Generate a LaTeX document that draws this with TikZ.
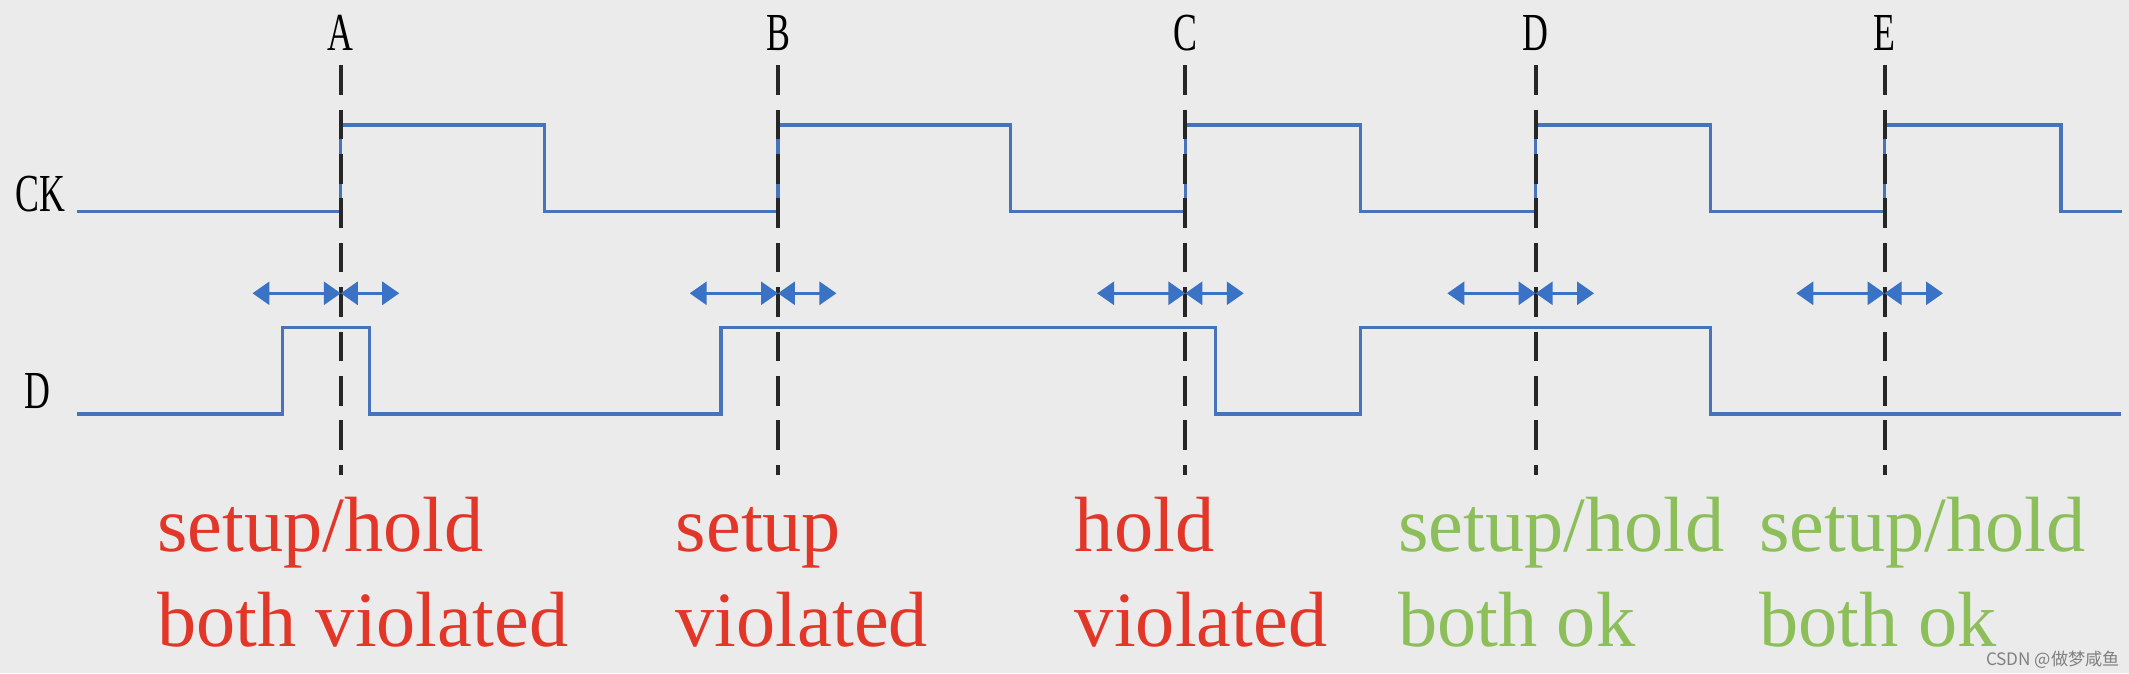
\documentclass[tikz,border=0pt]{standalone}
\usepackage{fontspec}
\setmainfont{Liberation Serif}
\newfontfamily\narrowserif[FakeStretch=0.67]{Liberation Serif}
\newfontfamily\cjksans{Noto Sans CJK SC}
\usepackage{tikz}
\usetikzlibrary{arrows.meta,positioning}

\definecolor{wavecol}{HTML}{4673B9}
\definecolor{marginblue}{HTML}{3A72C6}
\definecolor{badred}{HTML}{E23728}
\definecolor{okgreen}{HTML}{8CBE5A}
\definecolor{bggray}{HTML}{EBEBEB}

\tikzset{
  signal/.style={draw=wavecol, line width=0.7pt},
  clkline/.style={draw=black!85, line width=0.8pt, dash pattern=on 6.2pt off 3.1pt},
  margin/.style={draw=marginblue, line width=0.55pt,
    {Triangle[length=1.25mm,width=1.7mm]}-{Triangle[length=1.25mm,width=1.7mm]}},
  sig/.style={inner sep=0pt, anchor=base west, font=\narrowserif\fontsize{11.2}{13}\selectfont},
  edgelabel/.style={inner sep=0pt, anchor=base, font=\narrowserif\fontsize{11.2}{13}\selectfont},
  note/.style={inner sep=0pt, anchor=base west, font=\fontsize{16.4}{19}\selectfont},
}

\begin{document}
\begin{tikzpicture}[x=0.01cm, y=-0.01cm]
   \fill[bggray] (0,0) rectangle (1568,496);
   \useasboundingbox (0,0) rectangle (1568,496);

   % signal names
   \node[sig] (ck) at (11,156) {CK};
   \node[sig] (d) at (17,301) {D};

   % clock
   \draw[signal] (57,156) -- (251,156) -- (251,92) -- (401,92) -- (401,156)
      -- (573,156) -- (573,92) -- (744,92) -- (744,156)
      -- (873,156) -- (873,92) -- (1002,92) -- (1002,156)
      -- (1131,156) -- (1131,92) -- (1260,92) -- (1260,156)
      -- (1388,156) -- (1388,92) -- (1518,92) -- (1518,156) -- (1563,156);

   % data
   \draw[signal] (57,305) -- (208,305) -- (208,241) -- (272,241) -- (272,305)
      -- (531,305) -- (531,241) -- (895,241) -- (895,305)
      -- (1002,305) -- (1002,241) -- (1260,241) -- (1260,305) -- (1562,305);

   % sampling edges with setup/hold windows
   \foreach \name/\x in {A/251,B/573,C/873,D/1131,E/1388} {
      \coordinate (top\name) at (\x,48);
      \coordinate (bot\name) at (\x,350);
      \coordinate (mid\name) at (\x,216);
      \node[edgelabel] (lbl\name) at (\x,37) {\name};
      \draw[clkline] (top\name) -- (bot\name);
      \draw[margin] ([xshift=-0.65cm]mid\name) -- (mid\name);
      \draw[margin] (mid\name) -- ([xshift=0.43cm]mid\name);
   }

   % verdicts
   \node[note, text=badred] (vA1) at (115,406) {setup/hold};
   \node[note, text=badred] (vA2) at ([yshift=-0.7cm]vA1.base west) {both violated};
   \node[note, text=badred] (vB1) at (497,406) {setup};
   \node[note, text=badred] (vB2) at ([yshift=-0.7cm]vB1.base west) {violated};
   \node[note, text=badred] (vC1) at (791,406) {hold};
   \node[note, text=badred] (vC2) at ([yshift=-0.7cm]vC1.base west) {violated};
   \node[note, text=okgreen] (vD1) at (1029,406) {setup/hold};
   \node[note, text=okgreen] (vD2) at ([yshift=-0.7cm]vD1.base west) {both ok};
   \node[note, text=okgreen] (vE1) at (1295,406) {setup/hold};
   \node[note, text=okgreen] (vE2) at ([yshift=-0.7cm]vE1.base west) {both ok};

   \node[inner sep=0pt, anchor=base west, text=black!50, font=\cjksans\fontsize{3.6}{4}\selectfont]
      (mark) at (1462,490) {CSDN @做梦咸鱼};
\end{tikzpicture}
\end{document}
